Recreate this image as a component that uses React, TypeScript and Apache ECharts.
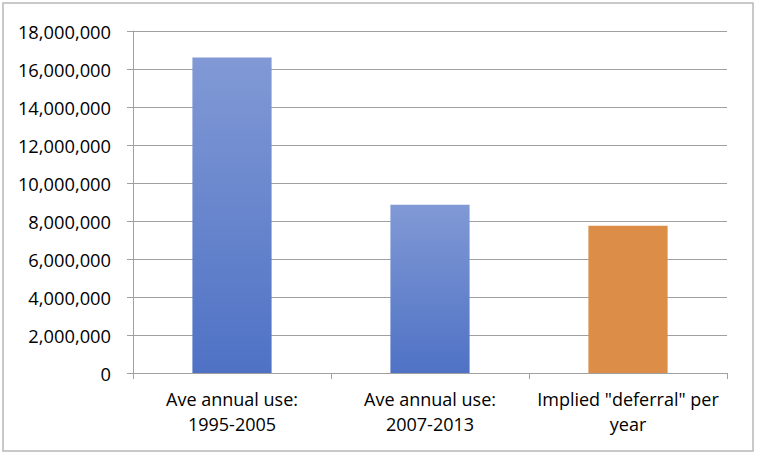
import React, { useEffect, useRef } from "react";
import * as echarts from "echarts";

const categories = [
  "Ave annual use:\n1995-2005",
  "Ave annual use:\n2007-2013",
  "Implied \"deferral\" per\nyear",
];
const values = [16600000, 8850000, 7750000];
const yMin = 0;
const yMax = 18000000;
const yInterval = 2000000;

const blueGradient = () =>
  new echarts.graphic.LinearGradient(0, 0, 0, 1, [
    { offset: 0, color: "#8199d5" },
    { offset: 1, color: "#4f72c5" },
  ]);
const orange = "#dc8e48";

export default function App() {
  const ref = useRef<HTMLDivElement>(null);
  useEffect(() => {
    if (!ref.current) return;
    const chart = echarts.init(ref.current, null, { renderer: "svg" });
    const font = "'Open Sans', 'Liberation Sans', sans-serif";
    chart.setOption({
      animation: false,
      backgroundColor: "#ffffff",
      graphic: [
        {
          type: "rect",
          shape: { x: 3, y: 3, width: 750, height: 448 },
          style: { fill: "none", stroke: "#b8b8b8", lineWidth: 1.5 },
          silent: true,
        },
      ],
      grid: { left: 133, right: 35, top: 31, bottom: 91, containLabel: false },
      xAxis: {
        type: "category",
        data: categories,
        axisLine: { show: true, lineStyle: { color: "#a0a0a0", width: 1 } },
        axisTick: { show: true, alignWithLabel: false, length: 6, lineStyle: { color: "#a0a0a0" } },
        axisLabel: {
          color: "#000",
          fontFamily: font,
          fontSize: 18,
          lineHeight: 25,
          margin: 13,
          interval: 0,
        },
        splitLine: { show: false },
      },
      yAxis: {
        type: "value",
        min: yMin,
        max: yMax,
        interval: yInterval,
        axisLine: { show: true, lineStyle: { color: "#a0a0a0", width: 1 } },
        axisTick: { show: true, length: 6, lineStyle: { color: "#a0a0a0" } },
        axisLabel: {
          color: "#000",
          fontFamily: font,
          fontSize: 18.3,
          margin: 22,
          formatter: (v: number) => v.toLocaleString("en-US"),
        },
        splitLine: { show: true, lineStyle: { color: "#a0a0a0", width: 1 } },
      },
      series: [
        {
          type: "bar",
          barWidth: "40%",
          data: values.map((v, i) => ({
            value: v,
            itemStyle: { color: i === 2 ? orange : blueGradient() },
          })),
        },
      ],
    });
    return () => chart.dispose();
  }, []);
  return (
    <div
      ref={ref}
      style={{ position: "fixed", left: 0, top: 0, width: 762, height: 464 }}
    />
  );
}
